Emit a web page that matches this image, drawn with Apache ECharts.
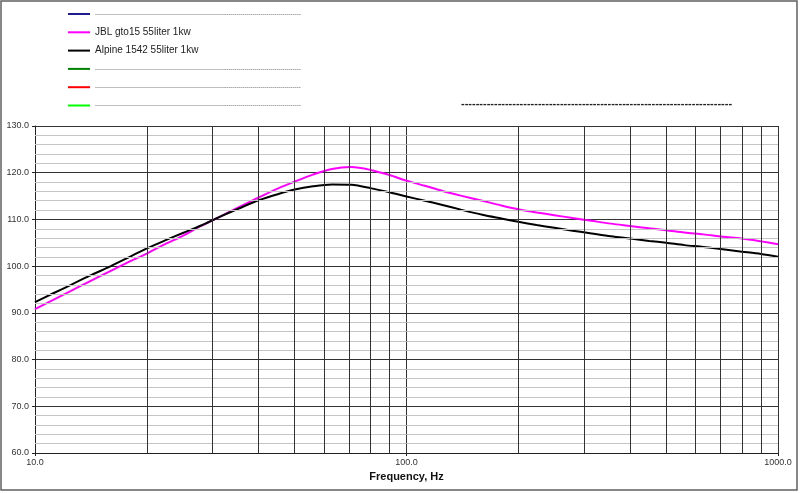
<!DOCTYPE html>
<html>
<head>
<meta charset="utf-8">
<script src="https://cdn.jsdelivr.net/npm/echarts@6/dist/echarts.min.js"></script>
<style>
html,body{margin:0;padding:0;background:#fff;}
#chart{width:800px;height:493px;}
</style>
</head>
<body>
<div id="chart"></div>
<script>
// ---- data ----
var freqs = [10, 11.2, 12.5, 14, 16, 18, 20, 22.4, 25, 28, 31.5, 35.5, 40, 45, 50, 56, 63, 71, 80, 90, 100, 112, 125, 140, 160, 180, 200, 224, 250, 280, 315, 355, 400, 450, 500, 560, 630, 710, 800, 900, 1000];
var jbl = [90.8, 92.8, 94.7, 96.7, 99.0, 101.0, 102.7, 104.7, 106.5, 108.6, 110.6, 112.7, 114.7, 116.6, 118.1, 119.6, 120.8, 121.2, 120.6, 119.5, 118.3, 117.2, 116.1, 115.1, 114.0, 113.0, 112.2, 111.5, 110.9, 110.3, 109.7, 109.1, 108.6, 108.1, 107.7, 107.2, 106.8, 106.3, 105.9, 105.3, 104.7];
var alpine = [92.3, 94.2, 96.0, 97.9, 100.0, 102.0, 103.8, 105.5, 107.1, 108.7, 110.6, 112.4, 114.1, 115.4, 116.4, 117.1, 117.5, 117.4, 116.7, 115.8, 114.9, 114.0, 113.1, 112.1, 111.0, 110.2, 109.5, 108.8, 108.2, 107.6, 107.0, 106.4, 105.9, 105.4, 105.0, 104.5, 104.1, 103.6, 103.1, 102.6, 102.0];
var minorFreqs = [20, 30, 40, 50, 60, 70, 80, 90, 200, 300, 400, 500, 600, 700, 800, 900];
var minorLevels = [62, 64, 66, 68, 72, 74, 76, 78, 82, 84, 86, 88, 92, 94, 96, 98, 102, 104, 106, 108, 112, 114, 116, 118, 122, 124, 126, 128];
var seriesNames = ['blank1', 'JBL gto15 55liter 1kw', 'Alpine 1542 55liter 1kw', 'blank4', 'blank5', 'blank6'];
var seriesColors = ['#1c1c8c', '#ff00ff', '#000000', '#008000', '#ff0000', '#00ff00'];
var seriesData = [[], null, null, [], [], []];
var yMin = 60, yMax = 130, yStep = 10;

function pairs(xs, ys) { return xs.map(function (x, i) { return [x, ys[i]]; }); }
seriesData[1] = pairs(freqs, jbl);
seriesData[2] = pairs(freqs, alpine);

var legendDashes = new Array(104).join('-');
var titleDashes = new Array(75).join('-');

var chart = echarts.init(document.getElementById('chart'), null, {renderer: 'canvas'});

var gridLines = minorLevels.map(function (v) {
  return {yAxis: v, lineStyle: {color: '#c4c4c4', width: 1, type: 'solid'}};
}).concat(minorFreqs.map(function (f) {
  return {xAxis: f, lineStyle: {color: '#333', width: 1, type: 'solid'}};
}));

var series = [{
  type: 'line',
  name: 'grid',
  data: [],
  z: 1,
  silent: true,
  markLine: {
    silent: true,
    symbol: ['none', 'none'],
    label: {show: false},
    lineStyle: {color: '#333', width: 1, type: 'solid'},
    emphasis: {disabled: true},
    animation: false,
    data: gridLines
  }
}];
seriesNames.forEach(function (n, i) {
  series.push({
    type: 'line',
    name: n,
    data: seriesData[i],
    smooth: 0.3,
    symbol: 'none',
    z: 3,
    color: seriesColors[i],
    lineStyle: {color: seriesColors[i], width: 2},
    itemStyle: {color: seriesColors[i]}
  });
});

var option = {
  animation: false,
  backgroundColor: '#fff',
  textStyle: {fontFamily: 'Liberation Sans, Arial, sans-serif'},
  title: {
    text: titleDashes,
    left: 461,
    top: 98,
    padding: 0,
    textStyle: {fontSize: 11, fontWeight: 'bold', color: '#222', fontFamily: 'Liberation Sans, Arial, sans-serif'}
  },
  legend: {
    orient: 'vertical',
    left: 68,
    top: 8,
    padding: 0,
    itemGap: 6.3,
    itemWidth: 22,
    itemHeight: 2,
    icon: 'rect',
    selectedMode: false,
    textStyle: {fontSize: 10, color: '#222', lineHeight: 12, fontFamily: 'Liberation Sans, Arial, sans-serif'},
    formatter: function (name) { return name.indexOf('blank') === 0 ? legendDashes : name; },
    data: seriesNames.map(function (n) {
      if (n.indexOf('blank') === 0) {
        return {name: n, textStyle: {fontSize: 6, color: '#555', lineHeight: 12}};
      }
      return {name: n};
    })
  },
  grid: {left: 35, right: 22, top: 126, bottom: 40, containLabel: false},
  xAxis: {
    type: 'log',
    logBase: 10,
    min: 10,
    max: 1000,
    name: 'Frequency, Hz',
    nameLocation: 'middle',
    nameGap: 18,
    nameTextStyle: {fontSize: 11, fontWeight: 'bold', color: '#111', fontFamily: 'Liberation Sans, Arial, sans-serif'},
    axisLine: {show: true, onZero: false, lineStyle: {color: '#222', width: 1}},
    axisTick: {show: true, length: 3, inside: false, lineStyle: {color: '#222'}},
    axisLabel: {fontSize: 9, color: '#333', margin: 5, formatter: function (v) { return (+v).toFixed(1); }},
    splitLine: {show: true, lineStyle: {color: '#333', width: 1}},
    minorTick: {show: false},
    minorSplitLine: {show: false}
  },
  yAxis: {
    type: 'value',
    min: yMin,
    max: yMax,
    interval: yStep,
    axisLine: {show: true, lineStyle: {color: '#222', width: 1}},
    axisTick: {show: true, length: 3, inside: false, lineStyle: {color: '#222'}},
    axisLabel: {fontSize: 9, color: '#333', margin: 6, formatter: function (v) { return (+v).toFixed(1); }},
    splitLine: {show: true, lineStyle: {color: '#333', width: 1}},
    minorTick: {show: false},
    minorSplitLine: {show: false}
  },
  graphic: [{
    type: 'rect',
    silent: true,
    z: 100,
    shape: {x: 1, y: 1, width: 796, height: 489},
    style: {fill: 'none', stroke: '#606060', lineWidth: 1.5}
  }],
  series: series
};
chart.setOption(option);
</script>
</body>
</html>
